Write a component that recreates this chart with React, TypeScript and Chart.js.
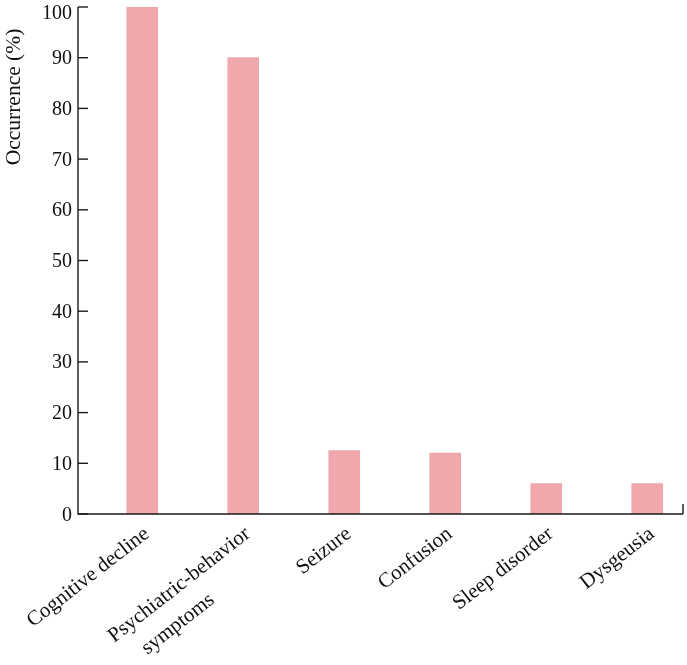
import React, { useEffect, useRef } from "react";
import { Chart, registerables } from "chart.js";

Chart.register(...registerables);

const categories: string[][] = [
  ["Cognitive decline"],
  ["Psychiatric-behavior", "symptoms"],
  ["Seizure"],
  ["Confusion"],
  ["Sleep disorder"],
  ["Dysgeusia"],
];
const occurrence = [100, 90, 12.5, 12, 6, 6];
const yTicks = [0, 10, 20, 30, 40, 50, 60, 70, 80, 90, 100];
const yTitle = "Occurrence (%)";

const FONT = '"Liberation Serif", "Times New Roman", serif';
const BAR_COLOR = "rgb(240,168,172)";
const AXIS_COLOR = "#1a1a1a";

const axesPlugin = {
  id: "customAxes",
  afterDraw(chart: any) {
    const ctx = chart.ctx as CanvasRenderingContext2D;
    const area = chart.chartArea;
    const xs = chart.scales.x;
    const ys = chart.scales.y;
    ctx.save();
    ctx.strokeStyle = AXIS_COLOR;
    ctx.lineWidth = 1.4;
    ctx.beginPath();
    ctx.moveTo(area.left, area.top);
    ctx.lineTo(area.left, area.bottom);
    ctx.lineTo(area.right, area.bottom);
    ctx.moveTo(area.right, area.bottom);
    ctx.lineTo(area.right, area.bottom - 10);
    ctx.stroke();
    ctx.fillStyle = "#111";
    ctx.font = `20px ${FONT}`;
    ctx.textAlign = "right";
    ctx.textBaseline = "alphabetic";
    yTicks.forEach((v) => {
      const y = ys.getPixelForValue(v);
      ctx.beginPath();
      ctx.moveTo(area.left, y);
      ctx.lineTo(area.left + 10, y);
      ctx.stroke();
      ctx.fillText(String(v), area.left - 6, Math.max(y + 6.5, 19));
    });
    ctx.save();
    ctx.font = `21.5px ${FONT}`;
    ctx.translate(14, 97);
    ctx.rotate(-Math.PI / 2);
    ctx.textAlign = "center";
    ctx.textBaseline = "middle";
    ctx.fillText(yTitle, 0, 0);
    ctx.restore();
    const ang = (38 * Math.PI) / 180;
    ctx.font = `21px ${FONT}`;
    categories.forEach((lines, i) => {
      const cx = xs.getPixelForValue(i);
      ctx.save();
      ctx.translate(cx + 8, area.bottom + 22);
      ctx.rotate(-ang);
      ctx.textBaseline = "alphabetic";
      ctx.textAlign = "right";
      ctx.fillText(lines[0], 0, 0);
      const w1 = ctx.measureText(lines[0]).width;
      for (let k = 1; k < lines.length; k++) {
        ctx.textAlign = "center";
        ctx.fillText(lines[k], -w1 / 2 - 25, 30 * k);
      }
      ctx.restore();
    });
    ctx.restore();
  },
};

export default function App() {
  const ref = useRef<HTMLCanvasElement | null>(null);
  useEffect(() => {
    if (!ref.current) return;
    const chart = new Chart(ref.current, {
      type: "bar",
      data: {
        datasets: [
          {
            data: occurrence.map((v, i) => ({ x: i, y: v })),
            backgroundColor: BAR_COLOR,
            borderWidth: 0,
            barThickness: 31,
          },
        ],
      },
      options: {
        responsive: false,
        animation: false,
        layout: { padding: { left: 78, top: 7, right: 4, bottom: 151 } },
        plugins: { legend: { display: false }, tooltip: { enabled: false } },
        scales: {
          x: { type: "linear", offset: false, min: -0.636, max: 5.354, display: false },
          y: { min: 0, max: 100, display: false },
        },
      },
      plugins: [axesPlugin],
    });
    return () => chart.destroy();
  }, []);
  return (
    <div style={{ position: "fixed", left: 0, top: 0, width: 687, height: 665, background: "#fff" }}>
      <canvas ref={ref} width={687} height={665} />
    </div>
  );
}
